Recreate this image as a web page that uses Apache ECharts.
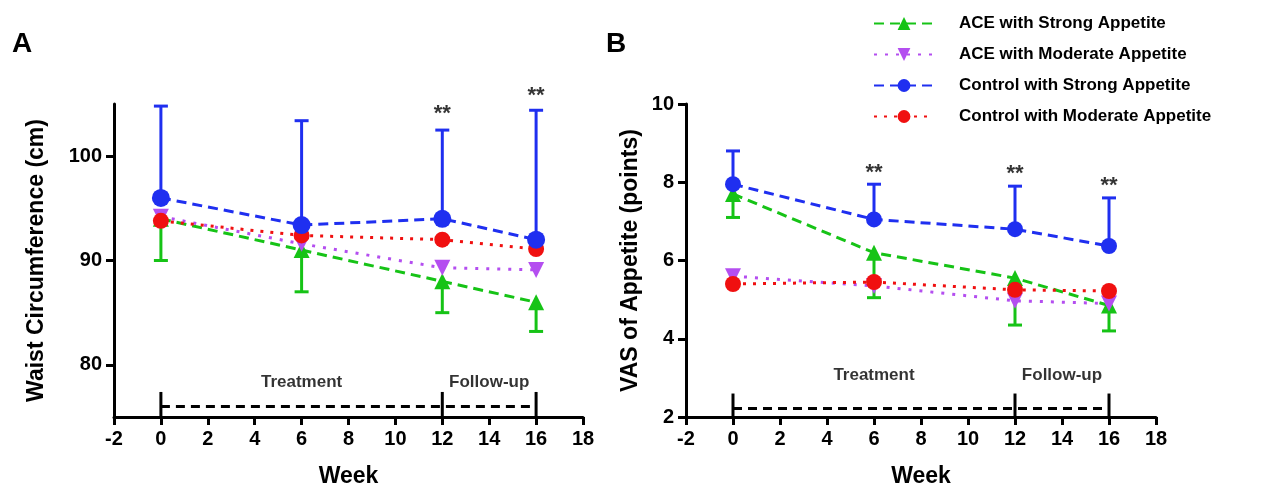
<!DOCTYPE html>
<html>
<head>
<meta charset="utf-8">
<script src="https://cdn.jsdelivr.net/npm/echarts@6/dist/echarts.min.js"></script>
<style>html,body{margin:0;background:#fff}#c{width:1281px;height:493px}</style>
</head>
<body>
<div id="c"></div>
<script>
var weeks = [0, 6, 12, 16];
var names = ['ACE with Strong Appetite', 'ACE with Moderate Appetite', 'Control with Strong Appetite', 'Control with Moderate Appetite'];

// panel A: waist circumference
var waistAceStrong = [94, 91, 88, 86];
var waistAceStrongLow = [90, 87, 85, 83.2];
var waistAceModerate = [94.2, 91.6, 89.3, 89.1];
var waistCtrlStrong = [96, 93.4, 94, 92];
var waistCtrlStrongHigh = [104.8, 103.4, 102.5, 104.4];
var waistCtrlModerate = [93.8, 92.4, 92, 91.1];
var waistStars = [[12, 104.0], [16, 105.8]];

// panel B: VAS of appetite
var vasAceStrong = [7.7, 6.2, 5.55, 4.85];
var vasAceStrongLow = [7.1, 5.05, 4.35, 4.2];
var vasAceModerate = [5.6, 5.35, 4.97, 4.9];
var vasCtrlStrong = [7.95, 7.05, 6.8, 6.37];
var vasCtrlStrongHigh = [8.8, 7.95, 7.9, 7.6];
var vasCtrlModerate = [5.4, 5.45, 5.25, 5.22];
var vasStars = [[6, 8.25], [12, 8.2], [16, 7.9]];

var colors = ['#16c316', '#b44ef0', '#1f2ff0', '#f01010'];
var font = 'Liberation Sans';

function pairs(v) { return weeks.map(function (w, i) { return [w, v[i]]; }); }

function lineSeries(idx, name, vals, dash, symbol, size, ax) {
  return {
    name: name, type: 'line', xAxisIndex: ax, yAxisIndex: ax, data: pairs(vals),
    symbol: symbol, symbolSize: size, z: 5 - (idx === 2 ? 0 : 1),
    lineStyle: { color: colors[idx], width: 3, type: dash },
    itemStyle: { color: colors[idx], opacity: 1 }
  };
}

function errSeries(idx, ends, mid, ax, width) {
  return {
    type: 'custom', xAxisIndex: ax, yAxisIndex: ax, silent: true, z: 3,
    data: weeks.map(function (w, i) { return [w, mid[i], ends[i]]; }),
    renderItem: function (params, api) {
      var a = api.coord([api.value(0), api.value(1)]);
      var b = api.coord([api.value(0), api.value(2)]);
      var st = { stroke: colors[idx], lineWidth: width };
      return { type: 'group', children: [
        { type: 'line', shape: { x1: a[0], y1: a[1], x2: b[0], y2: b[1] }, style: st },
        { type: 'line', shape: { x1: b[0] - 7, y1: b[1], x2: b[0] + 7, y2: b[1] }, style: st }
      ] };
    }
  };
}

function bracket(ax, yv, lo, hi) {
  return [{
    type: 'line', xAxisIndex: ax, yAxisIndex: ax, data: [[0, yv], [16, yv]], symbol: 'none', silent: true,
    lineStyle: { color: '#000', width: 3, type: [9, 6] }
  }, {
    type: 'custom', xAxisIndex: ax, yAxisIndex: ax, silent: true, data: [[0], [12], [16]],
    renderItem: function (params, api) {
      var a = api.coord([api.value(0), lo]), b = api.coord([api.value(0), hi]);
      return { type: 'line', shape: { x1: a[0], y1: a[1], x2: b[0], y2: b[1] }, style: { stroke: '#000', lineWidth: 3 } };
    }
  }];
}

function textSeries(ax, data, fs) {
  return {
    type: 'scatter', xAxisIndex: ax, yAxisIndex: ax, symbolSize: 0, silent: true, z: 10,
    data: data.map(function (d) { return { value: [d[0], d[1]], label: { show: true, formatter: d[2], position: 'inside', color: '#000', fontSize: fs, fontWeight: 'bold', fontFamily: font } }; })
  };
}

var stars = function (ax, arr) { return textSeries(ax, arr.map(function (s) { return [s[0], s[1], '**']; }), 22); };

var axLabel = { color: '#000', fontSize: 20, fontWeight: 'bold', fontFamily: font, margin: 12 };
var axLine = { show: true, onZero: false, lineStyle: { color: '#000', width: 3 } };
var axTick = { show: true, length: 8, lineStyle: { color: '#000', width: 3 } };
var nameStyle = { color: '#000', fontSize: 23, fontWeight: 'bold', fontFamily: font };

function xAxis(ax) {
  return { type: 'value', gridIndex: ax, min: -2, max: 18, interval: 2, name: 'Week', nameLocation: 'middle', nameGap: 48,
    nameTextStyle: nameStyle, axisLine: axLine, axisTick: axTick, axisLabel: axLabel, splitLine: { show: false } };
}

var option = {
  animation: false,
  textStyle: { fontFamily: font },
  grid: [
    { left: 114, right: 698, top: 104, bottom: 73 },
    { left: 686, right: 125, top: 104, bottom: 73 }
  ],
  xAxis: [xAxis(0), xAxis(1)],
  yAxis: [
    { type: 'value', gridIndex: 0, min: 75, max: 105, name: 'Waist Circumference (cm)', nameLocation: 'middle', nameGap: 66,
      nameTextStyle: nameStyle, axisLine: axLine, splitLine: { show: false },
      axisTick: Object.assign({ customValues: [80, 90, 100] }, axTick),
      axisLabel: Object.assign({ customValues: [80, 90, 100] }, axLabel) },
    { type: 'value', gridIndex: 1, min: 2, max: 10, interval: 2, name: 'VAS of Appetite (points)', nameLocation: 'middle', nameGap: 44,
      nameTextStyle: nameStyle, axisLine: axLine, axisTick: axTick, axisLabel: axLabel, splitLine: { show: false } }
  ],
  legend: {
    orient: 'vertical', left: 868, top: 10, itemWidth: 60, itemHeight: 16, itemGap: 14,
    data: names, textStyle: { color: '#000', fontSize: 17, fontWeight: 'bold', fontFamily: font, padding: [0, 0, 0, 20] }
  },
  graphic: [
    { type: 'text', left: 12, top: 30, style: { text: 'A', fontSize: 28, fontWeight: 'bold', fontFamily: font, fill: '#000' } },
    { type: 'text', left: 606, top: 30, style: { text: 'B', fontSize: 28, fontWeight: 'bold', fontFamily: font, fill: '#000' } }
  ],
  series: [].concat(
    errSeries(0, waistAceStrongLow, waistAceStrong, 0, 3),
    errSeries(2, waistCtrlStrongHigh, waistCtrlStrong, 0, 3),
    lineSeries(0, names[0], waistAceStrong, [10, 6], 'triangle', 16, 0),
    lineSeries(1, names[1], waistAceModerate, [3, 8], 'path://M0,0L10,0L5,9Z', 16, 0),
    lineSeries(2, names[2], waistCtrlStrong, [10, 6], 'circle', 18, 0),
    lineSeries(3, names[3], waistCtrlModerate, [3, 7], 'circle', 16, 0),
    bracket(0, 76, 75, 77.4),
    textSeries(0, [[6, 78.3, 'Treatment'], [14, 78.3, 'Follow-up']], 17),
    stars(0, waistStars),
    errSeries(0, vasAceStrongLow, vasAceStrong, 1, 3),
    errSeries(2, vasCtrlStrongHigh, vasCtrlStrong, 1, 3),
    lineSeries(0, names[0], vasAceStrong, [10, 6], 'triangle', 16, 1),
    lineSeries(1, names[1], vasAceModerate, [3, 8], 'path://M0,0L10,0L5,9Z', 16, 1),
    lineSeries(2, names[2], vasCtrlStrong, [10, 6], 'circle', 16, 1),
    lineSeries(3, names[3], vasCtrlModerate, [3, 7], 'circle', 16, 1),
    bracket(1, 2.22, 2, 2.6),
    textSeries(1, [[6, 3.06, 'Treatment'], [14, 3.06, 'Follow-up']], 17),
    stars(1, vasStars)
  )
};
option.series.forEach(function (s) { if (s.type === 'scatter') s.clip = false; });
echarts.init(document.getElementById('c')).setOption(option);
</script>
</body>
</html>
